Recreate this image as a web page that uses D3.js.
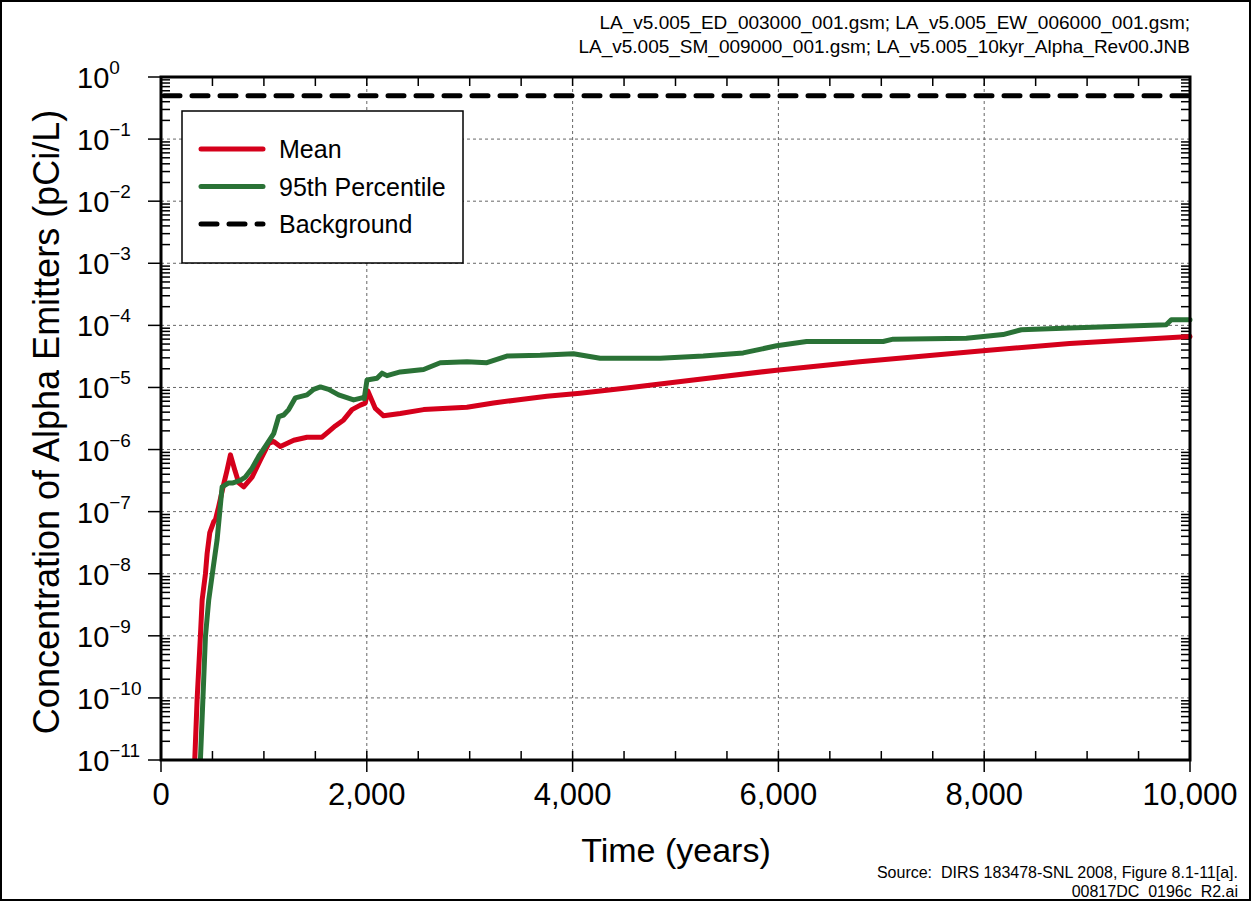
<!DOCTYPE html>
<html>
<head>
<meta charset="utf-8">
<script src="https://cdn.jsdelivr.net/npm/d3@7"></script>
<style>
  html, body { margin: 0; padding: 0; background: #fff; }
  svg { display: block; font-family: "Liberation Sans", Arial, sans-serif; }
  text { white-space: pre; }
</style>
</head>
<body>
<div id="chart"></div>
<script>
// values (time in years, concentration in pCi/L)
const meanYears = [328, 351, 383, 400, 432, 448, 474, 513, 529, 560, 610, 640, 675, 720, 756, 804, 885, 966, 1047, 1095, 1160, 1290, 1419, 1565, 1629, 1694, 1775, 1856, 1937, 1985, 2010, 2083, 2163, 2325, 2552, 2973, 3231, 3458, 3750, 4073, 4526, 5173, 5983, 6791, 7988, 8830, 10000];
const meanConc = [1e-11, 9.5e-11, 1.0e-9, 3.8e-9, 1.0e-8, 2.1e-8, 4.6e-8, 6.9e-8, 7.4e-8, 1.2e-7, 2.8e-7, 4.5e-7, 8.2e-7, 4.5e-7, 2.9e-7, 2.5e-7, 3.6e-7, 6.8e-7, 1.26e-6, 1.35e-6, 1.12e-6, 1.41e-6, 1.58e-6, 1.58e-6, 1.95e-6, 2.4e-6, 3.0e-6, 4.4e-6, 5.2e-6, 5.6e-6, 8.8e-6, 4.6e-6, 3.5e-6, 3.8e-6, 4.4e-6, 4.8e-6, 5.6e-6, 6.3e-6, 7.2e-6, 8.1e-6, 9.8e-6, 1.32e-5, 1.9e-5, 2.6e-5, 3.9e-5, 5.1e-5, 6.6e-5];

const p95Years = [383, 432, 464, 497, 545, 594, 658, 700, 772, 820, 885, 950, 1014, 1095, 1144, 1192, 1241, 1306, 1419, 1484, 1549, 1629, 1726, 1872, 1953, 1975, 2002, 2099, 2148, 2196, 2325, 2552, 2714, 2973, 3167, 3361, 3685, 4008, 4267, 4850, 5270, 5658, 5983, 6274, 7018, 7115, 7827, 8183, 8361, 8830, 9769, 9818, 10000];
const p95Conc = [1e-11, 9.8e-10, 3.8e-9, 9.5e-9, 3.5e-8, 2.5e-7, 2.9e-7, 2.9e-7, 3.2e-7, 3.6e-7, 5.0e-7, 7.8e-7, 1.12e-6, 1.8e-6, 3.4e-6, 3.6e-6, 4.4e-6, 6.8e-6, 7.6e-6, 9.3e-6, 1.02e-5, 9.3e-6, 7.6e-6, 6.3e-6, 6.8e-6, 6.6e-6, 1.32e-5, 1.41e-5, 1.7e-5, 1.55e-5, 1.78e-5, 1.95e-5, 2.5e-5, 2.6e-5, 2.5e-5, 3.2e-5, 3.3e-5, 3.5e-5, 2.95e-5, 2.95e-5, 3.2e-5, 3.6e-5, 4.7e-5, 5.5e-5, 5.5e-5, 6.0e-5, 6.2e-5, 7.1e-5, 8.5e-5, 9.1e-5, 1.02e-4, 1.23e-4, 1.23e-4];

const backgroundConc = 0.5;

const xTickValues = [0, 2000, 4000, 6000, 8000, 10000];
const yExponents = [0, -1, -2, -3, -4, -5, -6, -7, -8, -9, -10, -11];

const legendLabels = ["Mean", "95th Percentile", "Background"];
const fileLines = [
  "LA_v5.005_ED_003000_001.gsm; LA_v5.005_EW_006000_001.gsm;",
  "LA_v5.005_SM_009000_001.gsm; LA_v5.005_10kyr_Alpha_Rev00.JNB"
];
const sourceLines = [
  "Source:  DIRS 183478-SNL 2008, Figure 8.1-11[a].",
  "00817DC_0196c_R2.ai"
];

const c_red = "#d5001b";
const c_green = "#2a7236";

const width = 1251, height = 901;
const plot = { left: 161, right: 1190, top: 77, bottom: 760 };

draw();

function draw() {
  var svg = d3.select("#chart").append("svg")
    .attr("width", width)
    .attr("height", height);

  // frame around the whole figure
  svg.append("rect")
    .attr("x", 1).attr("y", 1)
    .attr("width", width - 2).attr("height", height - 2)
    .attr("fill", "none").attr("stroke", "#000").attr("stroke-width", 2);

  var x = d3.scaleLinear().domain([0, 10000]).range([plot.left, plot.right]);
  var y = d3.scaleLog().domain([1e-11, 1]).range([plot.bottom, plot.top]);

  // dotted grid
  var grid = svg.append("g").attr("stroke", "#666").attr("stroke-width", 1).attr("stroke-dasharray", "3,3");
  grid.selectAll("line.h")
    .data(yExponents.filter(e => e > -11 && e < 0))
    .enter().append("line")
    .attr("x1", plot.left).attr("x2", plot.right)
    .attr("y1", d => y(Math.pow(10, d))).attr("y2", d => y(Math.pow(10, d)));
  grid.selectAll("line.v")
    .data(xTickValues.filter(d => d > 0 && d < 10000))
    .enter().append("line")
    .attr("y1", plot.top).attr("y2", plot.bottom)
    .attr("x1", d => x(d)).attr("x2", d => x(d));

  // minor ticks, all pointing inward
  var minorY = [];
  yExponents.forEach(e => {
    if (e === 0) return;
    for (var m = 2; m <= 9; m++) minorY.push(m * Math.pow(10, e));
  });
  var minorX = d3.range(500, 10000, 500);

  var ticks = svg.append("g").attr("stroke", "#000").attr("stroke-width", 1.5);
  ticks.selectAll("line.yl").data(minorY).enter().append("line")
    .attr("x1", plot.left).attr("x2", plot.left + 9)
    .attr("y1", d => y(d)).attr("y2", d => y(d));
  ticks.selectAll("line.yr").data(minorY).enter().append("line")
    .attr("x1", plot.right).attr("x2", plot.right - 9)
    .attr("y1", d => y(d)).attr("y2", d => y(d));
  ticks.selectAll("line.xb").data(minorX).enter().append("line")
    .attr("x1", d => x(d)).attr("x2", d => x(d))
    .attr("y1", plot.bottom).attr("y2", plot.bottom - 9);
  ticks.selectAll("line.xt").data(minorX).enter().append("line")
    .attr("x1", d => x(d)).attr("x2", d => x(d))
    .attr("y1", plot.top).attr("y2", plot.top + 9);

  // major ticks: outward on left and bottom
  ticks.selectAll("line.ym").data(yExponents).enter().append("line")
    .attr("x1", plot.left - 13).attr("x2", plot.left)
    .attr("y1", d => y(Math.pow(10, d))).attr("y2", d => y(Math.pow(10, d)));
  ticks.selectAll("line.xm").data(xTickValues).enter().append("line")
    .attr("x1", d => x(d)).attr("x2", d => x(d))
    .attr("y1", plot.bottom).attr("y2", plot.bottom + 12);

  // y tick labels 10^n
  var yl = svg.append("g").attr("fill", "#000").attr("font-size", 29);
  yl.selectAll("text").data(yExponents).enter().append("text")
    .attr("x", 77)
    .attr("y", d => y(Math.pow(10, d)) + 11)
    .each(function (d) {
      var t = d3.select(this);
      t.append("tspan").text("10");
      t.append("tspan")
        .attr("dy", -14)
        .attr("font-size", 19)
        .text(d === 0 ? "0" : "\u2212" + (-d));
    });

  // x tick labels
  var xf = d3.format(",");
  svg.append("g").selectAll("text").data(xTickValues).enter().append("text")
    .attr("x", d => x(d))
    .attr("y", 805)
    .attr("text-anchor", "middle")
    .attr("font-size", 31)
    .text(d => xf(d));

  // series
  var line = d3.line()
    .x(d => x(d[0]))
    .y(d => y(d[1]));

  svg.append("defs").append("clipPath").attr("id", "clip")
    .append("rect")
    .attr("x", plot.left).attr("y", plot.top - 3)
    .attr("width", plot.right - plot.left + 4).attr("height", plot.bottom - plot.top + 3);

  var series = svg.append("g").attr("clip-path", "url(#clip)");

  series.append("path")
    .datum(d3.zip(meanYears, meanConc))
    .attr("d", line)
    .attr("fill", "none").attr("stroke", c_red)
    .attr("stroke-width", 5).attr("stroke-linejoin", "round").attr("stroke-linecap", "round");

  series.append("path")
    .datum(d3.zip(p95Years, p95Conc))
    .attr("d", line)
    .attr("fill", "none").attr("stroke", c_green)
    .attr("stroke-width", 5).attr("stroke-linejoin", "round").attr("stroke-linecap", "round");

  svg.append("line")
    .attr("x1", plot.left + 3).attr("x2", plot.right)
    .attr("y1", y(backgroundConc)).attr("y2", y(backgroundConc))
    .attr("stroke", "#000").attr("stroke-width", 5)
    .attr("stroke-dasharray", "16,12").attr("stroke-linecap", "round");

  // plot frame
  svg.append("rect")
    .attr("x", plot.left).attr("y", plot.top)
    .attr("width", plot.right - plot.left).attr("height", plot.bottom - plot.top)
    .attr("fill", "none").attr("stroke", "#000").attr("stroke-width", 3);

  // legend
  var lg = svg.append("g");
  lg.append("rect")
    .attr("x", 182).attr("y", 111).attr("width", 281).attr("height", 152)
    .attr("fill", "#fff").attr("stroke", "#000").attr("stroke-width", 1.5);
  var legendColors = [c_red, c_green, "#000"];
  var rowY = d3.scalePoint().domain(legendLabels).range([149, 224]);
  legendLabels.forEach((lab, i) => {
    lg.append("line")
      .attr("x1", 201).attr("x2", 263)
      .attr("y1", rowY(lab)).attr("y2", rowY(lab))
      .attr("stroke", legendColors[i]).attr("stroke-width", 5)
      .attr("stroke-linecap", "round")
      .attr("stroke-dasharray", i === 2 ? "16,12" : null);
    lg.append("text")
      .attr("x", 279).attr("y", rowY(lab) + 9)
      .attr("font-size", 25)
      .text(lab);
  });

  // axis titles
  svg.append("text")
    .attr("x", 676).attr("y", 862)
    .attr("text-anchor", "middle")
    .attr("font-size", 34)
    .text("Time (years)");

  svg.append("text")
    .attr("transform", "translate(59,422) rotate(-90)")
    .attr("text-anchor", "middle")
    .attr("font-size", 36)
    .text("Concentration of Alpha Emitters (pCi/L)");

  // file names, top right
  svg.append("g").selectAll("text").data(fileLines).enter().append("text")
    .attr("x", 1190)
    .attr("y", (d, i) => 29 + i * 24)
    .attr("text-anchor", "end")
    .attr("font-size", 19)
    .text(d => d);

  // source note, bottom right
  svg.append("g").selectAll("text").data(sourceLines).enter().append("text")
    .attr("x", 1238)
    .attr("y", (d, i) => 878 + i * 19)
    .attr("text-anchor", "end")
    .attr("font-size", 16)
    .text(d => d);
}
</script>
</body>
</html>
